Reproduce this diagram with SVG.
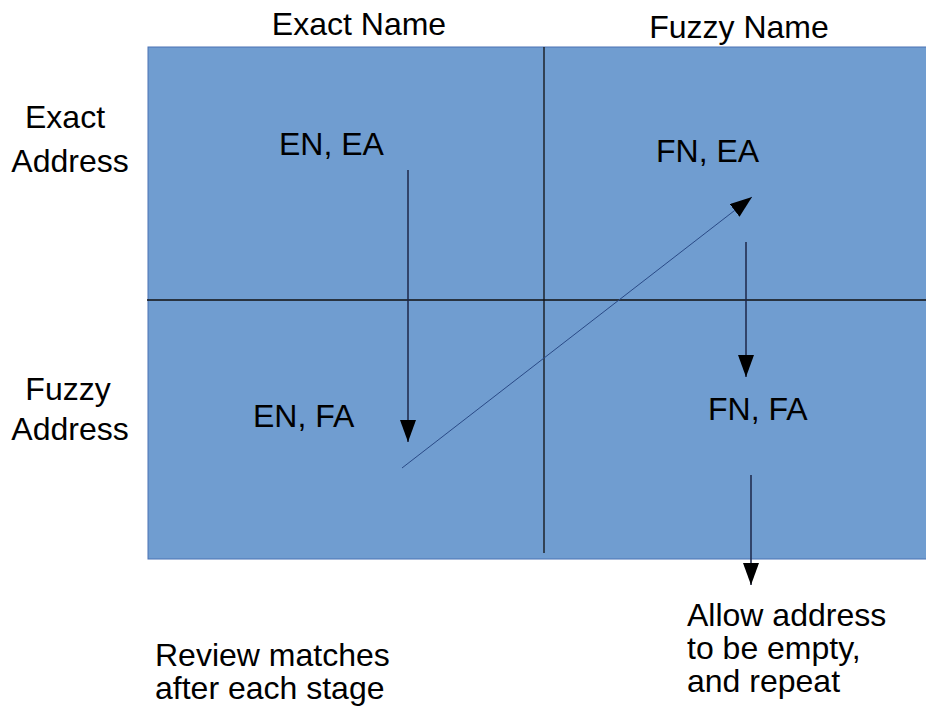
<svg xmlns="http://www.w3.org/2000/svg" width="926" height="706" viewBox="0 0 926 706">
  <style>
    text { font-family: "Liberation Sans", Arial, sans-serif; font-size: 32px; fill: #000; }
    .note { font-size: 31.5px; }
    .grid { stroke: #111; stroke-width: 1.3; }
    .flow { stroke: #1c2748; stroke-width: 1.5; fill: none; }
    .thin { stroke: #2a4a86; stroke-width: 1; fill: none; }
  </style>
  <defs>
    <marker id="head" markerWidth="22" markerHeight="16" refX="22" refY="8" orient="auto" markerUnits="userSpaceOnUse" viewBox="0 0 22 16">
      <path d="M0,0 L22,8 L0,16 Z" fill="#000"/>
    </marker>
  </defs>

  <!-- quadrant grid -->
  <g id="grid">
    <rect x="148" y="47" width="790" height="512" fill="#709dd0" stroke="#4a72b4" stroke-width="1"/>
    <line class="grid" x1="544" y1="47" x2="544" y2="553"/>
    <line class="grid" x1="147" y1="300" x2="926" y2="300"/>
  </g>

  <!-- axis headings -->
  <g id="col-exact-name"><text x="359" y="35" text-anchor="middle">Exact Name</text></g>
  <g id="col-fuzzy-name"><text x="739" y="38" text-anchor="middle">Fuzzy Name</text></g>
  <g id="row-exact-address"><text x="65" y="128" text-anchor="middle">Exact</text><text x="70" y="172" text-anchor="middle">Address</text></g>
  <g id="row-fuzzy-address"><text x="68" y="400" text-anchor="middle">Fuzzy</text><text x="70" y="440" text-anchor="middle">Address</text></g>

  <!-- quadrant cells -->
  <g id="en-ea"><text x="279" y="155">EN, EA</text></g>
  <g id="fn-ea"><text x="656" y="162">FN, EA</text></g>
  <g id="en-fa"><text x="253" y="427">EN, FA</text></g>
  <g id="fn-fa"><text x="708" y="420">FN, FA</text></g>

  <!-- notes -->
  <g id="note-review" class="note"><text x="155" y="666">Review matches</text><text x="155" y="699">after each stage</text></g>
  <g id="note-repeat" class="note"><text x="687" y="626">Allow address</text><text x="687" y="659">to be empty,</text><text x="687" y="692">and repeat</text></g>

  <!-- connectors -->
  <g id="connectors">
    <line class="flow" x1="408" y1="170" x2="408" y2="442" marker-end="url(#head)"/>
    <line class="thin" x1="402" y1="468" x2="752" y2="197" marker-end="url(#head)"/>
    <line class="flow" x1="746" y1="242" x2="746" y2="377" marker-end="url(#head)"/>
    <line class="flow" x1="751" y1="475" x2="751" y2="585" stroke="#000" marker-end="url(#head)"/>
  </g>
</svg>
